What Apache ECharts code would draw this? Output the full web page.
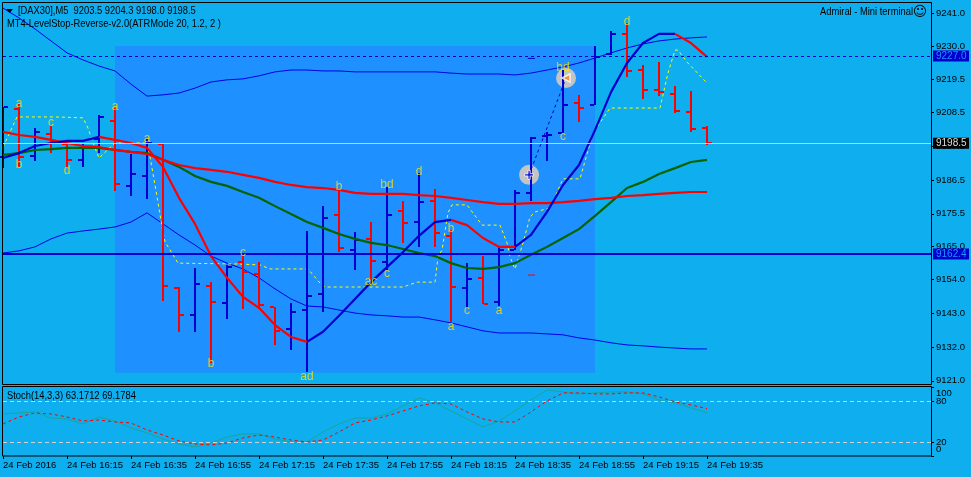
<!DOCTYPE html>
<html><head><meta charset="utf-8">
<style>html,body{margin:0;padding:0;background:#0FAEEE}#c{width:971px;height:477px}</style>
<script src="https://cdn.jsdelivr.net/npm/echarts@6/dist/echarts.min.js"></script>
</head><body><div id="c"></div>
<script>
const opens=[9194.0,9209.7,9194.4,9201.5,9198.3,9193.1,9199.9,9205.8,9184.6,9187.8,9198.3,9151.3,9142.5,9151.9,9146.4,9159.8,9155.9,9145.1,9137.9,9144.1,9149.3,9175.1,9163.7,9167.3,9159.8,9176.4,9172.8,9179.7,9168.3,9151.3,9154.5,9146.7,9163.7,9182.3,9200.9,9201.9,9211.6,9211.0,9227.6,9234.2,9222.4,9215.9,9214.6,9208.7,9203.5];
const highs=[9210.3,9211.3,9203.5,9204.5,9199.6,9198.6,9207.7,9210.0,9195.0,9199.9,9198.6,9151.6,9157.8,9153.2,9158.8,9162.7,9159.8,9145.1,9146.4,9169.9,9178.0,9183.3,9169.6,9172.8,9184.2,9179.7,9188.8,9183.6,9170.2,9159.4,9161.7,9164.7,9183.3,9200.6,9202.2,9222.4,9214.3,9230.2,9235.1,9237.7,9224.0,9225.0,9217.2,9215.6,9204.3];
const lows=[9190.4,9190.8,9192.7,9195.3,9190.4,9190.8,9195.3,9182.9,9181.3,9180.3,9147.0,9136.9,9136.9,9126.8,9141.2,9144.4,9144.4,9132.7,9131.1,9123.9,9143.5,9163.0,9157.2,9153.9,9157.2,9166.0,9164.7,9164.7,9140.2,9144.8,9146.1,9145.4,9163.7,9179.7,9192.7,9201.9,9205.4,9211.0,9227.3,9220.1,9212.9,9213.9,9208.4,9202.2,9198.0];
const closes=[9210.3,9194.0,9202.2,9199.2,9193.1,9197.3,9207.1,9185.2,9188.5,9198.6,9151.9,9142.5,9152.6,9146.7,9158.1,9156.5,9145.7,9137.3,9143.5,9148.7,9174.1,9164.3,9166.9,9160.1,9175.1,9172.5,9179.3,9169.2,9151.6,9154.2,9146.1,9163.7,9182.3,9200.2,9201.2,9211.0,9210.0,9226.7,9234.2,9222.1,9215.9,9215.2,9209.0,9203.2,9198.5];
const upperBand=[9242.6,9239.4,9235.8,9231.9,9228.0,9225.7,9223.7,9222.1,9217.8,9213.9,9214.3,9214.9,9216.5,9218.5,9219.2,9219.5,9220.5,9221.8,9222.4,9222.4,9222.1,9222.1,9221.8,9221.8,9221.8,9221.8,9221.8,9221.8,9221.4,9221.1,9221.1,9221.1,9220.8,9221.4,9222.4,9223.4,9224.7,9226.3,9228.0,9229.6,9230.9,9231.9,9232.5,9232.9,9233.2];
const lowerBand=[9162.7,9163.4,9164.7,9167.3,9169.2,9169.9,9170.5,9171.2,9172.8,9175.8,9172.2,9168.6,9165.3,9161.7,9159.4,9157.5,9154.6,9151.0,9147.7,9145.4,9145.1,9144.1,9143.1,9142.5,9142.2,9141.8,9141.8,9140.9,9139.9,9138.6,9137.3,9136.6,9136.6,9136.6,9136.3,9136.0,9135.0,9134.3,9133.4,9132.7,9132.4,9132.0,9131.7,9131.4,9131.4];
const greenMA=[9194.7,9195.3,9196.3,9196.6,9197.0,9197.0,9197.0,9196.3,9195.7,9195.3,9193.1,9190.8,9187.8,9185.9,9184.6,9182.6,9180.7,9178.0,9175.4,9172.8,9170.9,9168.9,9167.3,9166.0,9165.3,9164.0,9162.7,9161.7,9159.4,9157.8,9157.5,9158.1,9159.4,9162.1,9164.7,9167.6,9170.5,9174.8,9179.3,9183.9,9185.9,9188.5,9190.4,9192.4,9193.1];
const redMA=[9202.2,9201.2,9200.6,9199.6,9198.6,9197.6,9197.3,9196.3,9195.7,9195.0,9193.1,9191.4,9190.4,9189.8,9189.2,9188.2,9187.2,9185.9,9184.9,9184.2,9183.9,9183.3,9182.3,9182.0,9182.0,9182.0,9181.6,9181.3,9180.7,9180.0,9179.3,9178.7,9178.7,9179.0,9179.0,9179.3,9179.7,9180.3,9180.7,9181.3,9181.6,9182.0,9182.3,9182.6,9182.6];
const fastMA=[9193.7,9195.3,9197.6,9198.6,9199.3,9199.3,9200.6,9199.6,9198.6,9197.0,9190.8,9180.7,9172.2,9161.7,9154.6,9148.4,9144.8,9139.2,9135.3,9133.7,9137.0,9142.2,9147.7,9153.2,9158.1,9163.0,9168.3,9172.8,9173.5,9171.8,9167.6,9164.7,9164.7,9168.6,9176.1,9184.9,9191.4,9202.8,9215.2,9224.7,9231.2,9234.2,9234.2,9231.2,9226.7];
const fastFalling=[[6,19],[28,32],[42,44]];
const levelBars=[0,0.44,0.88,3.25,5,5.31,5.63,6,7,9,9.19,9.63,9.94,10.13,10.44,10.94,14.81,16.06,16.69,19.06,19.81,20.13,25,25.88,27,27.19,27.44,27.81,28.06,29,29.94,31.06,31.5,31.69,32,32.5,32.94,33.25,34.19,34.5,35,36.06,36.88,37.94,41.06,41.56,42,42.19,42.75,43.94];
const levelPrices=[9197.3,9202.2,9207.1,9207.1,9206.8,9203.5,9198.6,9193.7,9198.6,9198.6,9194.0,9181.0,9171.2,9166.3,9163.7,9159.4,9159.1,9158.8,9157.5,9157.5,9152.9,9151.6,9151.6,9153.2,9153.2,9161.4,9163.7,9175.8,9178.4,9178.4,9171.8,9171.8,9166.0,9161.4,9157.5,9166.0,9174.5,9176.1,9177.4,9181.0,9186.9,9186.9,9201.9,9210.0,9210.0,9221.4,9228.9,9228.9,9225.0,9218.5];
const waveTexts=['a','b','c','d','a','a','c','b','ad','b','bd','d','ac','c','b','a','c','a','bd','c','d'];
const waveBars=[1,1,3,4,7,9,15,13,19,21,24,26,23,24,28,28,29,31,35,35,39];
const wavePrices=[9211.4,9191.4,9205.1,9189.5,9210.3,9199.9,9162.7,9126.5,9122.2,9184.2,9184.9,9189.1,9153.2,9155.9,9170.5,9138.6,9143.8,9143.8,9223.1,9200.6,9238.1];
const stochMain=[61.5,63.0,64.4,55.6,54.2,46.8,57.1,51.2,41.0,33.7,24.9,17.6,13.2,19.0,27.8,32.2,32.2,24.9,20.5,20.5,35.1,46.8,55.6,55.6,61.5,73.2,84.9,77.6,65.9,54.2,42.5,51.2,65.9,82.0,96.6,93.7,90.8,92.2,93.7,93.7,90.8,82.0,77.6,70.3,63.17];
const stochSignal=[46.8,57.1,63.0,61.5,57.1,51.2,52.7,49.8,48.3,38.1,30.7,22.0,17.6,16.1,19.0,26.4,30.7,27.8,23.4,20.5,23.4,35.1,48.3,52.7,58.6,65.9,73.2,77.6,76.1,64.4,54.2,49.8,49.8,64.4,80.5,92.2,92.2,90.8,90.8,92.2,92.2,86.4,79.1,74.7,69.18];
const priceTicks=[9241,9230,9219.5,9208.5,9197.5,9186.5,9175.5,9165,9154,9143,9132,9121];
const timeTickBars=[0,4,8,12,16,20,24,28,32,36,40,44];
const timeLabels=['24 Feb 2016','24 Feb 16:15','24 Feb 16:35','24 Feb 16:55','24 Feb 17:15','24 Feb 17:35','24 Feb 17:55','24 Feb 18:15','24 Feb 18:35','24 Feb 18:55','24 Feb 19:15','24 Feb 19:35'];
const stochLevelLabels=[80,20];
const stochEndPlaces=[91.4,9.5];
const stochEndTexts=['100','0'];
const tradeBars=[32.88,35.19];
const tradePrices=[9188.2,9219.8];
const dashBars=[32.8,33.25];
const blueDashPrice=9226.2, redDashPrice=9155.5;
const boxBars=[7,37];
const boxPrices=[9230.2,9123.6];
const currentPrice=9198.5, upperLevel=9227.0, lowerLevel=9162.4;

const FONT='"Liberation Sans",sans-serif';
const BLUE='#0000CD', RED='#FF0000', BG='#0FAEEE';
const AXF=9.5;
const idx=a=>a.map((v,i)=>[i,v]);
const zip=(a,b)=>a.map((v,i)=>[v,b[i]]);
const fastPart=(falling)=>fastMA.map((v,i)=>{
  const inF=fastFalling.some(r=>i>=r[0]&&i<=r[1]);
  const edge=fastFalling.some(r=>i===r[0]||i===r[1]);
  return [i,(falling?inF:(!inF||edge))?v:null];
});
const line=(name,data,color,width,z,extra)=>Object.assign({name,type:'line',xAxisIndex:0,yAxisIndex:0,data,symbol:'none',silent:true,z,connectNulls:false,animation:false,
  lineStyle:{color,width,type:'solid'}},extra||{});
const hline=(value,color,width,type,z,tag)=>line('level',[[0,value]],color,width,z,{markLine:{silent:true,symbol:'none',animation:false,
  lineStyle:{color,width,type},
  label:tag?{show:true,position:'end',distance:2,formatter:value.toFixed(1),fontFamily:FONT,fontSize:10,color:tag.color,backgroundColor:tag.bg,width:33,height:11,lineHeight:11,align:'left',padding:[0,0,0,3]}:{show:false},
  data:[{yAxis:value}]}});

const series=[
  line('box',[[0,currentPrice]],BG,0,0,{lineStyle:{width:0},markArea:{silent:true,animation:false,itemStyle:{color:'#1E90FF'},data:[[{coord:[boxBars[0],boxPrices[0]]},{coord:[boxBars[1],boxPrices[1]]}]]}}),
  hline(currentPrice,'#CFCFCF',1,'solid',1,{color:'#DDDDDD',bg:'#000000'}),
  hline(upperLevel,BLUE,1,[3,3],2,{color:'#1E90FF',bg:BLUE}),
  line('upper',idx(upperBand),'#0000E6',1,2),
  line('lower',idx(lowerBand),'#0000E6',1,2),
  line('levelstop',zip(levelBars,levelPrices),'#FFFF00',1,2,{lineStyle:{color:'#FFFF00',width:1,type:[3,3]}}),
  {name:'tradeCircles',type:'scatter',xAxisIndex:0,yAxisIndex:0,silent:true,z:2,animation:false,symbol:'circle',symbolSize:20,itemStyle:{color:'#C4C4C4',opacity:1},data:zip(tradeBars,tradePrices)},
  line('tradeLine',zip(tradeBars,tradePrices),BLUE,1,3,{lineStyle:{color:BLUE,width:1,type:[3,3]}}),
  line('blueDash',dashBars.map(b=>[b,blueDashPrice]),BLUE,1,3),
  line('redDash',dashBars.map(b=>[b,redDashPrice]),RED,1,3),
  {name:'bars',type:'custom',xAxisIndex:0,yAxisIndex:0,silent:true,z:3,animation:false,clip:false,
   data:opens.map((o,i)=>[i,o,highs[i],lows[i],closes[i]]),
   encode:{x:0,y:[1,2,3,4]},
   renderItem(p,api){
     const i=api.value(0),o=api.value(1),h=api.value(2),l=api.value(3),c=api.value(4);
     const x=Math.round(api.coord([i,o])[0]);
     const yo=Math.round(api.coord([i,o])[1]),yh=Math.round(api.coord([i,h])[1]),yl=Math.round(api.coord([i,l])[1]),yc=Math.round(api.coord([i,c])[1]);
     const fill=c<o?RED:BLUE;
     const r=(a,b,w,hh)=>({type:'rect',shape:{x:a,y:b,width:w,height:hh},style:{fill}});
     return {type:'group',children:[r(x-1,yh,2,yl-yh),r(x-5,yo-1,4,2),r(x+1,yc-1,4,2)]};
   }},
  line('green',idx(greenMA),'#006400',2.2,4),
  line('red',idx(redMA),RED,2.2,4),
  line('fastUp',fastPart(false),BLUE,2.2,4),
  line('fastDown',fastPart(true),RED,2.2,4),
  hline(lowerLevel,BLUE,2,'solid',5,{color:'#1E90FF',bg:BLUE}),
  {name:'tradeOpenIcon',type:'scatter',xAxisIndex:0,yAxisIndex:0,silent:true,z:5,animation:false,symbol:'path://M3,0H5V3H8V5H5V8H3V5H0V3H3Z',symbolSize:9,
   itemStyle:{color:BLUE,borderColor:'#FFFFFF',borderWidth:1},data:[[tradeBars[0],tradePrices[0]]]},
  {name:'tradeCloseIcon',type:'scatter',xAxisIndex:0,yAxisIndex:0,silent:true,z:5,animation:false,symbol:'triangle',symbolRotate:90,symbolSize:8,
   itemStyle:{color:'#F09020',borderColor:'#FFFFFF',borderWidth:1.5},data:[[tradeBars[1],tradePrices[1]]]},
  {name:'waves',type:'scatter',xAxisIndex:0,yAxisIndex:0,silent:true,z:6,animation:false,symbolSize:0,
   data:waveBars.map((b,i)=>({value:[b,wavePrices[i]],label:{show:true,position:'inside',formatter:waveTexts[i],color:'#FFE000',fontFamily:FONT,fontSize:12}}))},
  line('stochMain',idx(stochMain),'#1AA59A',1,2,{xAxisIndex:1,yAxisIndex:1}),
  line('stochSignal',idx(stochSignal),RED,1,3,{xAxisIndex:1,yAxisIndex:1,lineStyle:{color:RED,width:1,type:[3,3]},
    markLine:{silent:true,symbol:'none',animation:false,label:{show:false},lineStyle:{color:'#D0D0D0',width:1,type:[4,3]},data:[{yAxis:80},{yAxis:20}]}})
];

const txt=(x,y,text,extra,sx)=>({type:'text',x,y,z:100,silent:true,scaleX:sx===undefined?0.85:sx,style:Object.assign({text,fontFamily:FONT,fontSize:11,fill:'#000',textVerticalAlign:'middle'},extra||{})});
const frame=(x,y,w,h)=>({type:'rect',z:90,silent:true,shape:{x,y,width:w,height:h},style:{fill:'none',stroke:'#000',lineWidth:1}});
const noLine={show:false,onZero:false};

const chart=echarts.init(document.getElementById('c'),null,{renderer:'canvas',width:971,height:477});
chart.setOption({
  animation:false,backgroundColor:BG,
  grid:[{left:3,right:40,top:3,height:381,outerBoundsMode:'none'},{left:3,right:40,top:387.6,height:68.4,outerBoundsMode:'none'}],
  xAxis:[
    {type:'value',gridIndex:0,min:0,max:58,show:false,splitLine:{show:false},axisLine:noLine},
    {type:'value',gridIndex:1,min:0,max:58,position:'bottom',splitLine:{show:false},axisLine:noLine,
     axisTick:{show:true,length:3,inside:false,lineStyle:{color:'#000'},customValues:timeTickBars},
     axisLabel:{customValues:timeTickBars,align:'left',margin:4,showMinLabel:true,showMaxLabel:true,hideOverlap:false,color:'#000',fontFamily:FONT,fontSize:AXF,formatter:v=>timeLabels[timeTickBars.indexOf(v)]||''}}
  ],
  yAxis:[
    {type:'value',gridIndex:0,position:'right',min:9119.96,max:9244.27,splitLine:{show:false},axisLine:noLine,
     axisTick:{show:true,length:3,lineStyle:{color:'#000'},customValues:priceTicks},
     axisLabel:{customValues:priceTicks,margin:5,showMinLabel:true,showMaxLabel:true,hideOverlap:false,color:'#000',fontFamily:FONT,fontSize:AXF,formatter:v=>v.toFixed(1)}},
    {type:'value',gridIndex:1,position:'right',min:0,max:100,splitLine:{show:false},axisLine:noLine,
     axisTick:{show:true,length:3,lineStyle:{color:'#000'},customValues:[100,80,20,0]},
     axisLabel:{customValues:stochLevelLabels,margin:5,showMinLabel:true,showMaxLabel:true,hideOverlap:false,color:'#000',fontFamily:FONT,fontSize:AXF,formatter:v=>String(v)}},
    {type:'value',gridIndex:1,position:'right',min:0,max:100,splitLine:{show:false},axisLine:noLine,axisTick:{show:false},
     axisLabel:{customValues:stochEndPlaces,margin:5,showMinLabel:true,showMaxLabel:true,hideOverlap:false,color:'#000',fontFamily:FONT,fontSize:AXF,formatter:v=>stochEndTexts[stochEndPlaces.indexOf(v)]}}
  ],
  series,
  graphic:[
    frame(2.5,2.5,929,382),frame(2.5,386.5,929,69.5),
    {type:'polygon',z:100,silent:true,shape:{points:[[6,9],[13,9],[9.5,13]]},style:{fill:'#000'}},
    txt(18,11,'[DAX30],M5  9203.5 9204.3 9198.0 9198.5'),
    txt(7,24,'MT4-LevelStop-Reverse-v2.0(ATRMode 20, 1.2, 2 )'),
    txt(913,12,'Admiral - Mini terminal',{textAlign:'right'}),
    txt(920,12,'\u263A',{textAlign:'center',fontFamily:'"DejaVu Sans"',fontSize:14},1),
    txt(7,396,'Stoch(14,3,3) 63.1712 69.1784')
  ]
});
</script></body></html>
